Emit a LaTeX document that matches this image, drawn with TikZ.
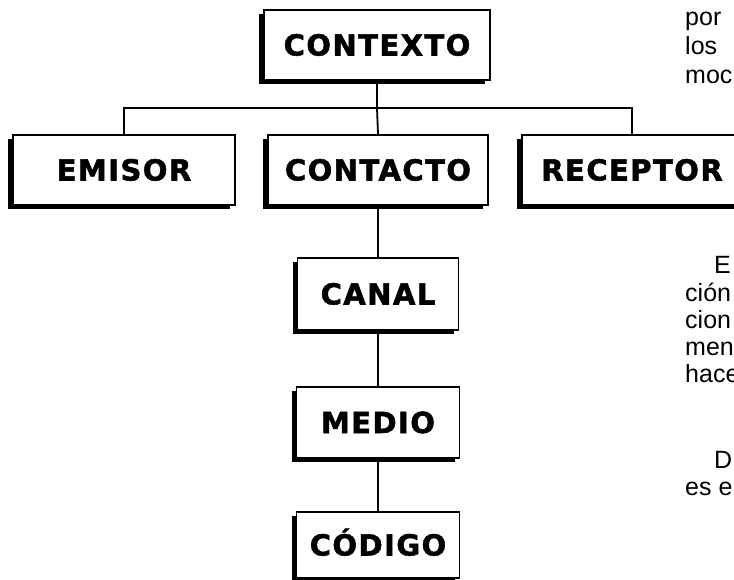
\documentclass[tikz,border=0pt]{standalone}
\usepackage{fontspec}
\setmainfont{Liberation Sans}
\newfontfamily\labelfont[LetterSpace=5, FakeBold=1.8]{DejaVu Sans}
\usetikzlibrary{shadows, calc}
\tikzset{
    unit/.style={
        rectangle,
        draw=black,
        line width=1.8pt,
        fill=white,
        minimum height=70pt,
        inner sep=0pt,
        text height=21pt,
        text depth=0pt,
        font=\labelfont\bfseries\fontsize{29}{29}\selectfont,
        drop shadow={shadow xshift=-5pt, shadow yshift=-4pt, fill=black, opacity=1},
    },
    link/.style={
        line width=1.8pt,
    },
    prose/.style={
        anchor=base west,
        inner sep=0pt,
        font=\fontsize{25}{25}\selectfont,
    },
}

\begin{document}
\begin{tikzpicture}[x=1pt,y=-1pt]
          \useasboundingbox (0,0) rectangle (734,579);
          \clip (0,0) rectangle (734,579);

          \node [unit, minimum width=226pt] (contexto) at (377,45) {CONTEXTO};
          \node [unit, minimum width=222pt] (emisor) at (124,170) {EMISOR};
          \node [unit, minimum width=220pt] (contacto) at (378,170) {CONTACTO};
          \node [unit, minimum width=220pt] (receptor) at (632,170) {RECEPTOR};
          \node [unit, minimum width=161pt, minimum height=72pt] (canal) at (378,294) {CANAL};
          \node [unit, minimum width=163pt, minimum height=71pt] (medio) at (378,422.5) {MEDIO};
          \node [unit, minimum width=163pt, minimum height=66pt] (codigo) at (378,545) {CÓDIGO};
          \coordinate (bus) at (377,108);

          \draw[link] (contexto.south) -- (bus);
          \draw[link] (emisor.north) |- (bus) -| (receptor.north);
          \draw[link] (bus) -- (contacto.north);
          \draw[link] (contacto) -- (canal);
          \draw[link] (canal) -- (medio);
          \draw[link] (medio) -- (codigo);

          \node [prose] (por) at (685,25) {por};
          \node [prose] (los) at (685,54) {los};
          \node [prose] (moc) at (685,83) {moc};
          \node [prose] (e) at (714,273) {E};
          \node [prose] (cion1) at (685,301) {ción};
          \node [prose] (cion2) at (685,328) {cion};
          \node [prose] (men) at (685,355) {men};
          \node [prose] (hace) at (685,382) {hace};
          \node [prose] (d) at (714,468) {D};
          \node [prose] (ese) at (685,495) {es e};
        \end{tikzpicture}
\end{document}
